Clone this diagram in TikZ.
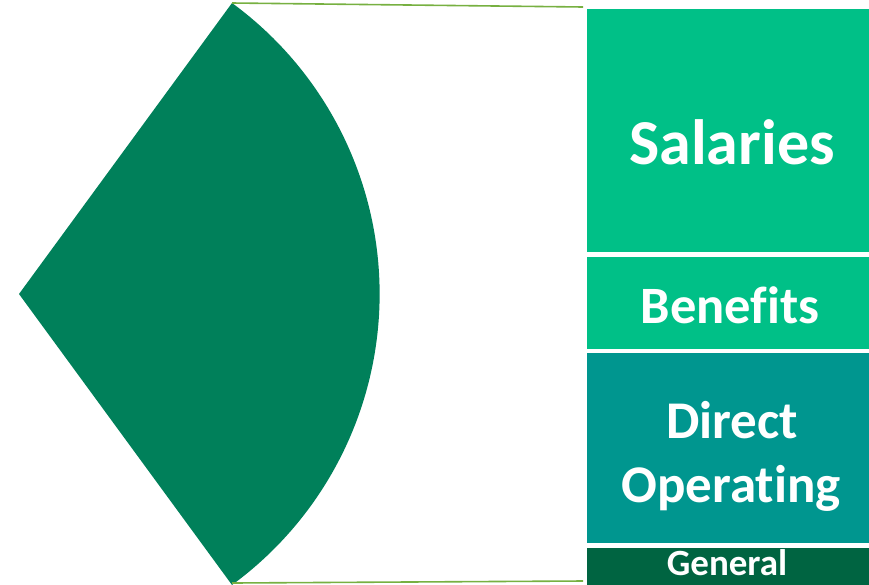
\documentclass[tikz,border=0pt]{standalone}
\usepackage{fontspec}
\setmainfont[RawFeature={-liga;-clig;-dlig;-calt}]{Carlito}
\definecolor{sectorc}{HTML}{00805A}
\definecolor{salc}{HTML}{00C087}
\definecolor{dirc}{HTML}{00968F}
\definecolor{genc}{HTML}{006441}
\definecolor{connc}{HTML}{77B041}
\begin{document}
\begin{tikzpicture}[x=1pt,y=-1pt,
  box/.style={draw=none,rectangle,inner sep=0pt,anchor=north west,minimum width=282pt},
  lbl/.style={text=white,inner sep=0pt,anchor=base},
  conn/.style={draw=connc,line width=1.6pt}]
\useasboundingbox (0,0) rectangle (869,584);
\clip (0,0) rectangle (869,584);
% sector
\coordinate (apex) at (19,294);
\coordinate (st) at (232,3);
\coordinate (sb) at (232,583);
\fill[sectorc] (apex) -- (st) arc[start angle=53.8, end angle=-53.8, radius=360.6pt] -- cycle;
% boxes
\node[box,fill=salc,minimum height=243pt] (sal) at (587,9) {};
\node[box,fill=salc,minimum height=92pt] (ben) at (587,257) {};
\node[box,fill=dirc,minimum height=190pt] (dir) at (587,353) {};
\node[box,fill=genc,minimum height=40pt] (gen) at (587,548) {};
% connectors
\coordinate (te) at (583,7);
\coordinate (be) at (583,581);
\draw[conn] (st) -- (te);
\draw[conn] (sb) -- (be);
% labels
\node[lbl,font=\bfseries\fontsize{64}{64}\selectfont] (tsal) at (732,164) {Salaries};
\node[lbl,font=\bfseries\fontsize{52.5}{52.5}\selectfont] (tben) at (730,323) {Benef\kern0pt its};
\node[lbl,font=\bfseries\fontsize{53}{53}\selectfont] (tdir1) at (732,438) {Direct};
\node[lbl,font=\bfseries\fontsize{53}{53}\selectfont] (tdir2) at (731,502) {Operat\kern0pt ing};
\node[lbl,font=\bfseries\fontsize{37}{37}\selectfont] (tgen) at (727,575) {General};
\end{tikzpicture}
\end{document}
